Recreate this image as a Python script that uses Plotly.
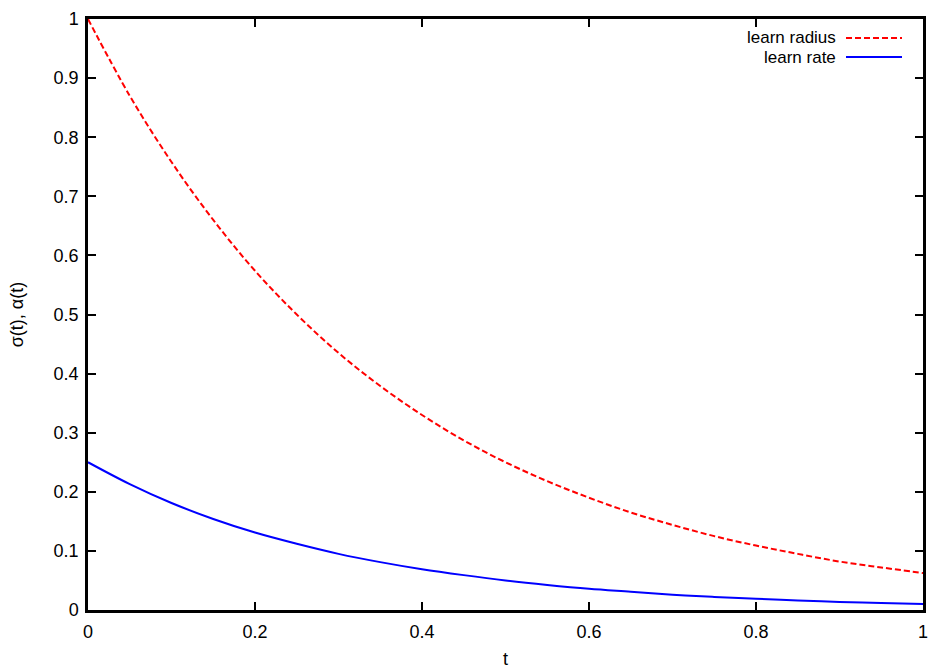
import plotly.graph_objects as go

t = [0.0, 0.05, 0.1, 0.15, 0.2, 0.25, 0.3, 0.35, 0.4, 0.45, 0.5,
     0.55, 0.6, 0.65, 0.7, 0.75, 0.8, 0.85, 0.9, 0.95, 1.0]
learn_radius = [1.0, 0.87, 0.758, 0.66, 0.574, 0.5, 0.435, 0.379, 0.33, 0.287, 0.25,
                0.218, 0.19, 0.165, 0.144, 0.125, 0.109, 0.095, 0.082, 0.072, 0.0625]
learn_rate = [0.25, 0.213, 0.181, 0.154, 0.131, 0.112, 0.095, 0.081, 0.069, 0.059, 0.05,
              0.0425, 0.036, 0.031, 0.026, 0.0222, 0.019, 0.0161, 0.0137, 0.0117, 0.01]
x_ticks = [0, 0.2, 0.4, 0.6, 0.8, 1]
x_ticklabels = ["0", "0.2", "0.4", "0.6", "0.8", "1"]
y_ticks = [0, 0.1, 0.2, 0.3, 0.4, 0.5, 0.6, 0.7, 0.8, 0.9, 1]
y_ticklabels = ["0", "0.1", "0.2", "0.3", "0.4", "0.5", "0.6", "0.7", "0.8", "0.9", "1"]

L, R, T, B = 88, 923, 19, 610
W, H = 937, 670
PW, PH = R - L, B - T

fig = go.Figure()
fig.add_trace(go.Scatter(x=t, y=learn_radius, mode="lines", name="learn radius",
                         line=dict(color="#ff0000", width=2, dash="6px,3px", shape="spline"),
                         showlegend=False))
fig.add_trace(go.Scatter(x=t, y=learn_rate, mode="lines", name="learn rate",
                         line=dict(color="#0000ff", width=2, shape="spline"),
                         showlegend=False))

font = dict(family="Liberation Sans, Arial, sans-serif", size=18, color="black")
legend_font = dict(family="Liberation Sans, Arial, sans-serif", size=17, color="black")
axis_common = dict(showline=True, linecolor="black", linewidth=2.5, mirror="ticks",
                   ticks="inside", ticklen=8, tickwidth=1.5, tickcolor="black",
                   showgrid=False, zeroline=False, tickfont=font, automargin=False)

fig.update_layout(
    width=W, height=H,
    margin=dict(l=L, r=W - R, t=T, b=H - B),
    paper_bgcolor="white", plot_bgcolor="white",
    font=font,
    xaxis=dict(range=[0, 1], tickvals=x_ticks, ticktext=x_ticklabels, ticklabelstandoff=4,
               title=dict(text="t", font=font, standoff=12), **axis_common),
    yaxis=dict(range=[0, 1], tickvals=y_ticks, ticktext=y_ticklabels, ticklabelstandoff=3,
               title=dict(text="σ(t), α(t)", font=font, standoff=26), **axis_common),
)

# legend (gnuplot style: text right-aligned, sample line to the right)
legend_items = [("learn radius", "#ff0000", "6px,3px"), ("learn rate", "#0000ff", "solid")]
for i, (label, color, dash) in enumerate(legend_items):
    yp = 1 - (38 - T + i * 19) / PH
    fig.add_annotation(x=(837 - L) / PW, y=yp, xref="paper", yref="paper",
                       text=label, showarrow=False, xanchor="right", yanchor="middle",
                       font=legend_font, borderpad=0)
    fig.add_shape(type="line", xref="paper", yref="paper",
                  x0=(846 - L) / PW, x1=(902 - L) / PW, y0=yp, y1=yp,
                  line=dict(color=color, width=2, dash=dash))

fig.write_html("out.html", config={"displayModeBar": False},
               post_script="document.body.style.margin='0';document.body.style.padding='0';")
